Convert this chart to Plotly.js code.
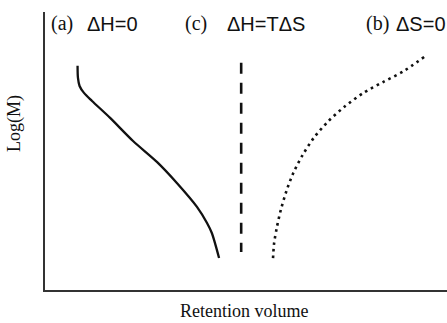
<!DOCTYPE html>
<html>
<head>
<meta charset="utf-8">
<script src="https://cdn.plot.ly/plotly-3.0.1.min.js"></script>
<style>html,body{margin:0;padding:0;background:#fff;}#chart{width:447px;height:323px;}</style>
</head>
<body>
<div id="chart"></div>
<script>
// Curve (a) ΔH=0 : solid
const aX = [8.1, 8.2, 8.6, 9.7, 11.7, 16.2, 21.9, 27.9, 32.8, 37.8, 40.3, 41.5, 43.3];
const aY = [80.7, 76.3, 73.4, 70.9, 68.0, 61.9, 53.6, 46.0, 38.5, 29.9, 24.1, 20.5, 11.5];
// Line (c) ΔH=TΔS : dashed vertical
const cX = [48.8, 48.8];
const cY = [81.7, 13.7];
// Curve (b) ΔS=0 : dotted
const bX = [94.3, 89.1, 84.1, 79.1, 74.4, 70.4, 66.9, 64.1, 61.8, 60.1, 58.7, 57.7, 57.0, 56.7];
const bY = [83.8, 78.6, 74.8, 70.8, 65.8, 60.6, 54.8, 48.6, 42.2, 35.8, 29.0, 22.7, 16.9, 10.8];

const tags = ["(a)", "(c)", "(b)"];
const labels = ["ΔH=0", "ΔH=TΔS", "ΔS=0"];
const xTitle = "Retention volume";
const yTitle = "Log(M)";

const SERIF = "Liberation Serif, Times New Roman, serif";
const SANS = "Liberation Sans, Arial, sans-serif";
const W = 447, H = 323, L = 45, R = 0, T = 12, B = 33;
const px = x => (x - L) / (W - L - R);
const py = y => (H - B - y) / (H - T - B);

const traces = [
  {x: aX, y: aY, mode: 'lines', line: {color: '#111', width: 2.3, shape: 'spline', smoothing: 0.8}},
  {x: cX, y: cY, mode: 'lines', line: {color: '#111', width: 2.6, dash: '11px,9px'}},
  {x: bX, y: bY, mode: 'lines', line: {color: '#111', width: 2.6, dash: '2.6px,4px', shape: 'spline', smoothing: 0.8}}
];

function ann(x, y, t, fam, size, anchor) {
  return {xref: 'paper', yref: 'paper', x: px(x), y: py(y), xanchor: anchor || 'center', yanchor: 'middle',
    showarrow: false, text: t, font: {family: fam, size: size, color: '#111'}};
}

const layout = {
  width: W, height: H,
  margin: {l: L, r: R, t: T, b: B},
  paper_bgcolor: '#fff', plot_bgcolor: '#fff',
  showlegend: false,
  xaxis: {range: [0, 100], showgrid: false, zeroline: false, showticklabels: false, ticks: '',
    showline: true, linecolor: '#333', linewidth: 2, fixedrange: true},
  yaxis: {range: [0, 100], showgrid: false, zeroline: false, showticklabels: false, ticks: '',
    showline: true, linecolor: '#333', linewidth: 2, fixedrange: true},
  annotations: [
    ann(62, 24, tags[0], SERIF, 20),
    ann(112, 24, labels[0], SANS, 20),
    ann(196, 24, tags[1], SERIF, 20),
    ann(266, 24, labels[1], SANS, 20),
    ann(377, 24, tags[2], SERIF, 20),
    ann(421, 24, labels[2], SANS, 20),
    ann(244, 311, xTitle, SERIF, 18),
    Object.assign(ann(14, 124, yTitle, SERIF, 18), {textangle: -90})
  ]
};

Plotly.newPlot('chart', traces, layout, {displayModeBar: false, staticPlot: true});
</script>
</body>
</html>
